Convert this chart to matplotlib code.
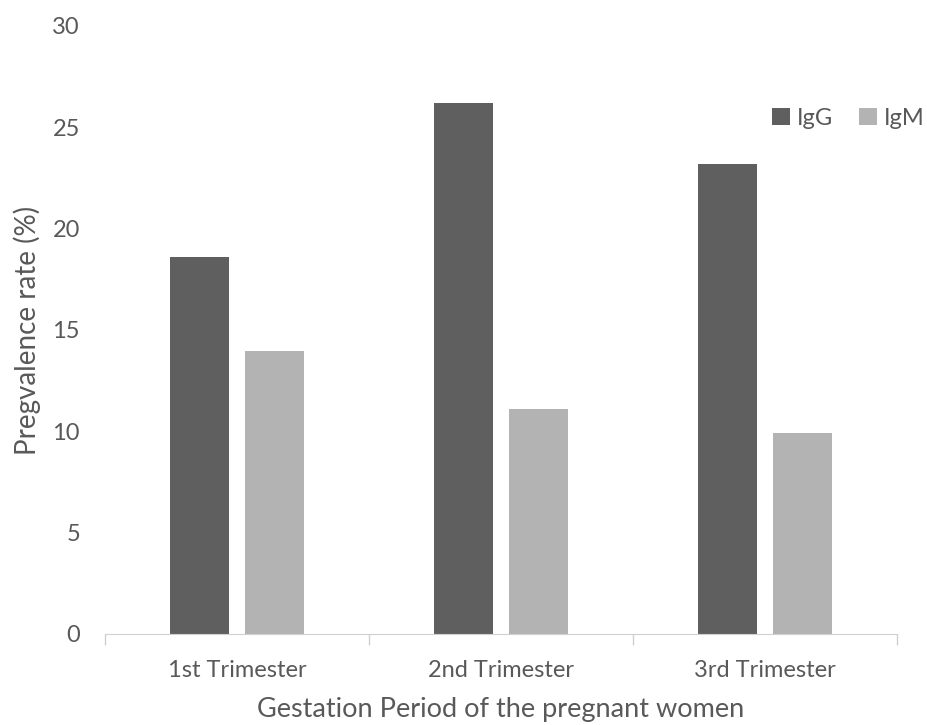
import numpy as np
import matplotlib.pyplot as plt

plt.rcParams['font.family'] = ['Lato', 'DejaVu Sans']

# prevalence by trimester
trimesters = ["1st Trimester", "2nd Trimester", "3rd Trimester"]
igg = [18.6, 26.2, 23.2]
igm = [13.95, 11.1, 9.9]

text_col = "#595959"
fig = plt.figure(figsize=(9.27, 7.25), dpi=100)
ax = fig.add_axes([105 / 927, 1 - 634 / 725, 792 / 927, 608 / 725])

x = np.arange(len(trimesters))
w = 0.22
ax.bar(x - 0.142, igg, w, color="#5f5f5f", label="IgG")
ax.bar(x + 0.142, igm, w, color="#b3b3b3", label="IgM")

ax.set_xlim(-0.5, 2.5)
ax.set_ylim(0, 30)
ax.set_yticks(range(0, 31, 5))
ax.set_xticks(x)
ax.set_xticklabels(trimesters)
ax.set_xticks([-0.5, 0.5, 1.5, 2.5], minor=True)
ax.tick_params(axis="x", which="major", length=0, pad=19, labelsize=17, labelcolor=text_col)
ax.tick_params(axis="x", which="minor", length=8, color="#d0d0d0", width=1)
ax.tick_params(axis="y", length=0, pad=18, labelsize=17, labelcolor=text_col)

for s in ["top", "right", "left"]:
    ax.spines[s].set_visible(False)
ax.spines["bottom"].set_color("#d0d0d0")

ax.set_ylabel("Pregvalence rate (%)", fontsize=20, color=text_col, labelpad=8)
ax.set_xlabel("Gestation Period of the pregnant women", fontsize=19.5, color=text_col, labelpad=11)

fig.legend(*ax.get_legend_handles_labels(), loc="upper right",
           bbox_to_anchor=(925 / 927, 1 - 108 / 725), ncol=2, frameon=False,
           fontsize=17, labelcolor=text_col, handlelength=0.75, handleheight=0.75,
           handletextpad=0.3, columnspacing=1.1, borderpad=0, borderaxespad=0)

fig.savefig("out.png", dpi=100)
